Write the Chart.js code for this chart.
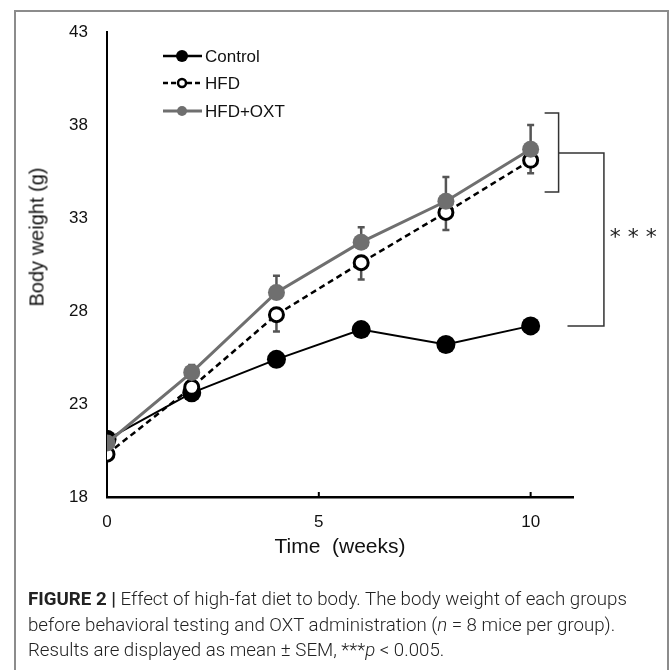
<!DOCTYPE html>
<html>
<head>
<meta charset="utf-8">
<script src="https://cdn.jsdelivr.net/npm/chart.js@4.4.1/dist/chart.umd.min.js"></script>
<style>
  body { margin: 0; background: #fff; }
  #wrap { position: relative; width: 670px; height: 670px; overflow: hidden; }
  #frame { position: absolute; left: 14px; top: 10px; width: 651px; height: 700px; border: 2px solid #8c8c8c; }
  #chart-box { position: absolute; left: 0; top: 0; width: 670px; height: 670px; }
  #y-title { position: absolute; left: 37px; top: 237px; transform: translate(-50%, -50%) rotate(-90deg);
    font: 20px "Liberation Sans", Arial, sans-serif; color: #111; white-space: nowrap; }
  #caption { position: absolute; left: 28px; top: 587px; font: 300 18.7px Roboto, "Liberation Sans", sans-serif;
    line-height: 25.5px; color: #222; white-space: nowrap; }
  #caption b { font-weight: 700; }
</style>
</head>
<body>
<div id="wrap">
  <div id="frame"></div>
  <div id="chart-box"><canvas id="weight-chart"></canvas></div>
  <div id="y-title">Body weight (g)</div>
  <div id="caption">
    <b>FIGURE 2 |</b> Effect of high-fat diet to body. The body weight of each groups<br>
    before behavioral testing and OXT administration (<i>n</i> = 8 mice per group).<br>
    Results are displayed as mean ± SEM, ***<i>p</i> &lt; 0.005.
  </div>
</div>
<script>
const weeks = [0, 2, 4, 6, 8, 10];
const controlWeight = [21.1, 23.6, 25.4, 27.0, 26.2, 27.2];
const hfdWeight = [20.3, 23.9, 27.8, 30.6, 33.3, 36.1];
const oxtWeight = [20.9, 24.7, 29.0, 31.7, 33.9, 36.7];
// SEM, HFD drawn downward, HFD+OXT drawn upward
const hfdSem = [0, 0.3, 0.9, 0.9, 0.95, 0.7];
const oxtSem = [0, 0.4, 0.9, 0.8, 1.3, 1.3];

const legendLabels = ["Control", "HFD", "HFD+OXT"];
const gray = "#6f6f6f";

const toPoints = (vals) => weeks.map((w, i) => ({ x: w, y: vals[i] }));

const extras = {
  id: "extras",
  beforeDatasetsDraw(chart) {
    const { ctx, scales: { x, y } } = chart;
    ctx.save();
    ctx.strokeStyle = "#555";
    ctx.lineWidth = 2.5;
    const bar = (w, from, to) => {
      const px = x.getPixelForValue(w);
      const y0 = y.getPixelForValue(from);
      const y1 = y.getPixelForValue(to);
      ctx.beginPath();
      ctx.moveTo(px, y0);
      ctx.lineTo(px, y1);
      ctx.moveTo(px - 3.5, y1);
      ctx.lineTo(px + 3.5, y1);
      ctx.stroke();
    };
    weeks.forEach((w, i) => {
      if (oxtSem[i] > 0) bar(w, oxtWeight[i], oxtWeight[i] + oxtSem[i]);
      if (hfdSem[i] > 0) bar(w, hfdWeight[i], hfdWeight[i] - hfdSem[i]);
    });
    ctx.restore();
  },
  afterDraw(chart) {
    const { ctx, scales: { x, y } } = chart;
    ctx.save();

    // small inside ticks on x axis
    ctx.strokeStyle = "#000";
    ctx.lineWidth = 2;
    [5, 10].forEach((v) => {
      const px = x.getPixelForValue(v);
      ctx.beginPath();
      ctx.moveTo(px, y.bottom);
      ctx.lineTo(px, y.bottom - 5);
      ctx.stroke();
    });

    // significance bracket
    ctx.strokeStyle = "#333";
    ctx.lineWidth = 1.5;
    const X = (v) => x.getPixelForValue(v);
    const Y = (v) => y.getPixelForValue(v);
    ctx.beginPath();
    ctx.moveTo(X(10.33), Y(38.65));
    ctx.lineTo(X(10.66), Y(38.65));
    ctx.lineTo(X(10.66), Y(34.4));
    ctx.lineTo(X(10.33), Y(34.4));
    ctx.moveTo(X(10.66), Y(36.5));
    ctx.lineTo(X(11.73), Y(36.5));
    ctx.lineTo(X(11.73), Y(27.2));
    ctx.lineTo(X(10.87), Y(27.2));
    ctx.stroke();
    ctx.fillStyle = "#222";
    ctx.font = '22px "DejaVu Sans", sans-serif';
    ctx.textAlign = "center";
    ctx.textBaseline = "middle";
    ctx.fillText("* * *", X(12.42), Y(31.9));

    // legend
    const rows = [56, 83, 111];
    ctx.font = '17px "Liberation Sans", Arial, sans-serif';
    ctx.textAlign = "left";
    rows.forEach((ry, i) => {
      ctx.beginPath();
      ctx.setLineDash(i === 1 ? [5, 3] : []);
      ctx.strokeStyle = i === 2 ? gray : "#000";
      ctx.lineWidth = i === 2 ? 3 : 2.5;
      ctx.moveTo(163, ry);
      ctx.lineTo(202, ry);
      ctx.stroke();
      ctx.setLineDash([]);
      ctx.beginPath();
      if (i === 1) {
        ctx.arc(182, ry, 4, 0, Math.PI * 2);
        ctx.fillStyle = "#fff";
        ctx.fill();
        ctx.lineWidth = 2.5;
        ctx.strokeStyle = "#000";
        ctx.stroke();
      } else {
        ctx.arc(182, ry, i === 0 ? 6 : 5, 0, Math.PI * 2);
        ctx.fillStyle = i === 2 ? gray : "#000";
        ctx.fill();
      }
      ctx.fillStyle = "#111";
      ctx.fillText(legendLabels[i], 205, ry + 1);
    });
    ctx.restore();
  },
};

new Chart(document.getElementById("weight-chart").getContext("2d"), {
  type: "line",
  data: {
    datasets: [
      {
        label: legendLabels[0],
        data: toPoints(controlWeight),
        borderColor: "#000",
        borderWidth: 2,
        pointRadius: 9.5,
        pointBorderWidth: 0,
        pointBackgroundColor: "#000",
        order: 3,
      },
      {
        label: legendLabels[1],
        data: toPoints(hfdWeight),
        borderColor: "#000",
        borderWidth: 2.5,
        borderDash: [6, 4],
        pointRadius: 7,
        pointBorderWidth: 3,
        pointBorderColor: "#000",
        pointBackgroundColor: "#fff",
        order: 2,
      },
      {
        label: legendLabels[2],
        data: toPoints(oxtWeight),
        borderColor: gray,
        borderWidth: 3,
        pointRadius: 8.5,
        pointBorderWidth: 0,
        pointBackgroundColor: gray,
        order: 1,
      },
    ],
  },
  options: {
    responsive: true,
    maintainAspectRatio: false,
    animation: false,
    layout: { padding: { left: 0, top: 32, right: 97, bottom: 103 } },
    plugins: { legend: { display: false }, tooltip: { enabled: false } },
    scales: {
      x: {
        type: "linear",
        min: 0,
        max: 11,
        grid: { display: false, drawTicks: false },
        border: { display: true, color: "#000", width: 2.5 },
        ticks: {
          stepSize: 5,
          includeBounds: false,
          padding: 15,
          color: "#111",
          font: { family: '"Liberation Sans", Arial, sans-serif', size: 17 },
        },
        title: {
          display: true,
          text: "Time  (weeks)",
          color: "#111",
          font: { family: '"Liberation Sans", Arial, sans-serif', size: 21 },
          padding: { top: 0, bottom: 7 },
        },
        afterFit: (scale) => { scale.height = 70; },
      },
      y: {
        min: 18,
        max: 43,
        grid: { display: false, drawTicks: false },
        border: { display: true, color: "#000", width: 2 },
        ticks: {
          stepSize: 5,
          padding: 19,
          color: "#111",
          font: { family: '"Liberation Sans", Arial, sans-serif', size: 17 },
        },
        afterFit: (scale) => { scale.width = 107; },
      },
    },
  },
  plugins: [extras],
});
</script>
</body>
</html>
